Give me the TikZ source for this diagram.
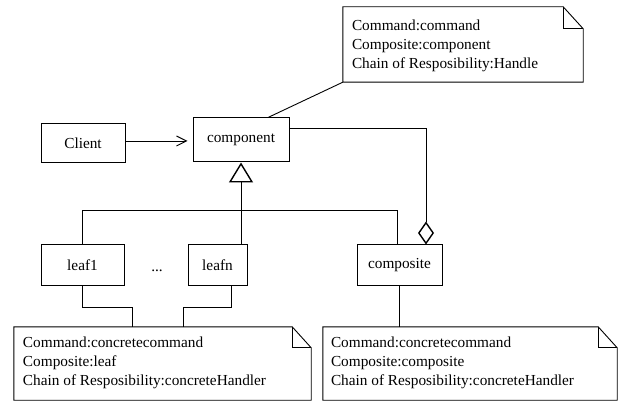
\documentclass[tikz,border=0pt]{standalone}
\usepackage{fontspec}
\setmainfont{Liberation Serif}
\usetikzlibrary{arrows.meta,calc}
\begin{document}
\begin{tikzpicture}[x=1pt,y=1pt,
  txt/.style={font=\fontsize{15.3}{19}\selectfont},
  box/.style={draw, line width=1pt, inner sep=0pt, txt},
  conn/.style={line width=0.9pt},
  noteframe/.style={inner sep=0pt},
  notetext/.style={anchor=west, align=left, inner sep=0pt, txt},
]
\useasboundingbox (0,0) rectangle (629,402);
% class boxes
\node[box, minimum width=84pt, minimum height=39pt] (client) at (83,258.5) {Client};
\node[box, minimum width=96pt, minimum height=44pt] (component) at (241,262) {component};
\node[box, minimum width=83pt, minimum height=40pt] (leaf1) at (82.5,137) {leaf1};
\node[box, minimum width=59pt, minimum height=40pt] (leafn) at (217.5,137) {leafn};
\node[box, minimum width=85pt, minimum height=40pt] (composite) at (399.5,137) {composite};
\node[txt, inner sep=0pt] (dots) at (157,131) {...};
% notes
\node[noteframe, minimum width=240pt, minimum height=75pt] (topnote) at (463,357.5) {};
\node[noteframe, minimum width=297pt, minimum height=73pt] (leftnote) at (162.5,38.5) {};
\node[noteframe, minimum width=294pt, minimum height=73pt] (rightnote) at (470,38.5) {};
\foreach \n/\fx/\fy in {topnote/20/22, leftnote/19/21, rightnote/19/21}{
  \draw[conn] (\n.south west) -- (\n.south east) -- ([yshift=-\fy pt]\n.north east)
    -- ([xshift=-\fx pt]\n.north east) -- (\n.north west) -- cycle;
  \draw[conn] ([xshift=-\fx pt]\n.north east) |- ([yshift=-\fy pt]\n.north east);
}
\node[notetext] (topnotetext) at ([xshift=9pt,yshift=-1pt]topnote.west) {Command:command\\Composite:component\\Chain of Resposibility:Handle};
\node[notetext] (leftnotetext) at ([xshift=9pt,yshift=1pt]leftnote.west) {Command:concretecommand\\Composite:leaf\\Chain of Resposibility:concreteHandler};
\node[notetext] (rightnotetext) at ([xshift=8pt,yshift=1pt]rightnote.west) {Command:concretecommand\\Composite:composite\\Chain of Resposibility:concreteHandler};
% connectors
\draw[conn, -{Straight Barb[length=10pt,width=10pt]}] ([yshift=2.5pt]client.east) -- ([xshift=-5pt,yshift=-1pt]component.west);
\draw[conn] ([xshift=27pt]component.north) -- (topnote.south west);
\draw[conn, {Diamond[open,length=23pt,width=16pt,line width=1.4pt]}-] ([xshift=26.5pt]composite.north) |- ([yshift=12pt]component.east);
\coordinate (bus) at (0,192);
\draw[conn] (leaf1.north) -- (leaf1.north |- bus) -- ([xshift=-2pt]composite.north |- bus) -- ([xshift=-2pt]composite.north);
\draw[conn, -{Triangle[open,length=20pt,width=24pt,line width=1.4pt]}] (component.south |- leafn.north) -- (component.south);
\draw[conn] (leaf1.south) -- ++(0,-22) -| ([xshift=-30.5pt]leftnote.north);
\draw[conn] ([xshift=13.5pt]leafn.south) -- ++(0,-22) -| ([xshift=20.5pt]leftnote.north);
\draw[conn] (composite.south) -- (composite.south |- rightnote.north);
\end{tikzpicture}
\end{document}
